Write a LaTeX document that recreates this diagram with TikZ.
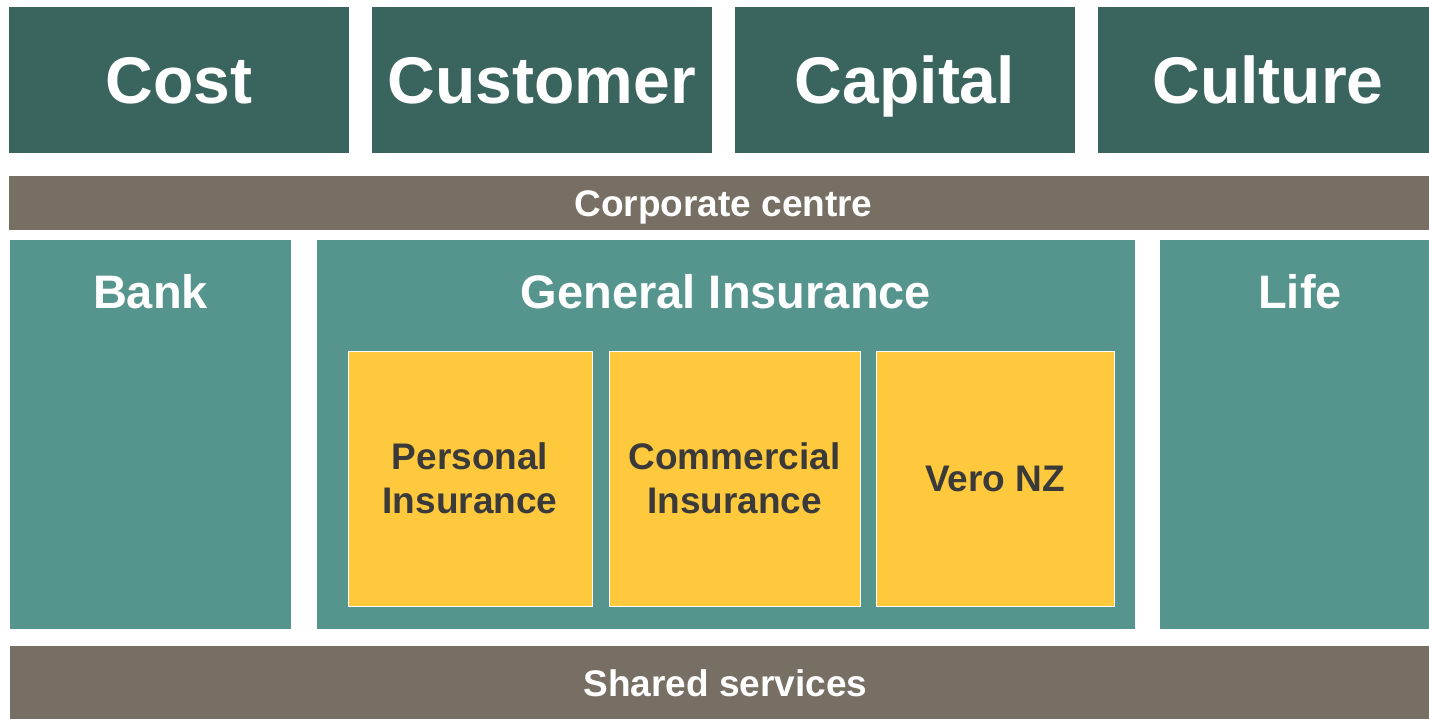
\documentclass[tikz,border=0pt]{standalone}
\usepackage{fontspec}
\setmainfont{Liberation Sans}
\definecolor{darkteal}{HTML}{3A655F}
\definecolor{stone}{HTML}{776F64}
\definecolor{teal}{HTML}{56958E}
\definecolor{gold}{HTML}{FFC93D}
\definecolor{ink}{HTML}{3A3A3A}
\begin{document}
\begin{tikzpicture}[x=1pt,y=-1pt,
  blk/.style={rectangle, inner sep=0pt, outer sep=0pt, anchor=north west},
  pillar/.style={blk, fill=darkteal, minimum width=340pt, minimum height=146pt,
     text=white, font=\bfseries\fontsize{66}{79}\selectfont, text height=47.3pt, text depth=0pt},
  bar/.style={blk, fill=stone, text=white, font=\bfseries\fontsize{37}{44}\selectfont,
     text height=26.5pt, text depth=0pt},
  unit/.style={blk, fill=teal, minimum height=389pt},
  unittitle/.style={inner sep=0pt, text=white, font=\bfseries\fontsize{47}{56}\selectfont,
     text height=33.6pt, text depth=0pt},
  sub/.style={blk, fill=gold, draw=white, line width=1pt, minimum height=255pt,
     text=ink, align=center, font=\bfseries\fontsize{37}{44}\selectfont}]
\clip (0,0) rectangle (1429,718);
\fill[white] (0,0) rectangle (1429,718);
% top pillars
\node[pillar] (cost) at (9,7) {Cost};
\node[pillar] (customer) at (372,7) {Customer};
\node[pillar] (capital) at (735,7) {Capital};
\node[pillar] (culture) at (1098,7) {Culture};
% corporate centre
\node[bar, minimum width=1429pt, minimum height=54pt] (corp) at (9,176) {Corporate centre};
% business units
\node[unit, minimum width=281pt] (bank) at (10,240) {};
\node[unit, minimum width=818pt] (gi) at (317,240) {};
\node[unit, minimum width=280pt] (life) at (1160,240) {};
\node[unittitle] (banktitle) at (150.5,292) {Bank};
\node[unittitle] (gititle) at (726,292) {General Insurance};
\node[unittitle] (lifetitle) at (1300,292) {Life};
% GI divisions
\node[sub, minimum width=244pt] (personal) at (348,351) {Personal\\Insurance};
\node[sub, minimum width=251pt] (commercial) at (609,351) {Commercial\\Insurance};
\node[sub, minimum width=238pt] (vero) at (876,351) {Vero NZ};
% shared services
\node[bar, minimum width=1431pt, minimum height=74pt] (shared) at (10,646) {Shared services};
\end{tikzpicture}
\end{document}
